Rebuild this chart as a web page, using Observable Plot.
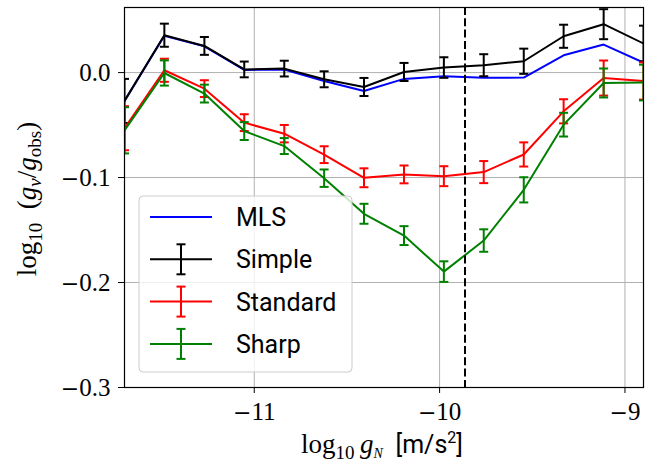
<!DOCTYPE html>
<html><head><meta charset="utf-8">
<script src="https://cdn.jsdelivr.net/npm/d3@7"></script>
<script src="https://cdn.jsdelivr.net/npm/@observablehq/plot@0.6"></script>
<style>body{margin:0;background:#fff}#chart{width:659px;height:464px}</style>
</head><body><div id="chart"></div>
<script>
// bin centres, log10 gN
const gN = [-11.7, -11.485, -11.269, -11.054, -10.838, -10.623, -10.408, -10.192, -9.977, -9.762, -9.546, -9.331, -9.115, -8.9];
const mls = [-0.027, 0.035, 0.025, 0.0025, 0.003, -0.008, -0.0175, -0.006, -0.0035, -0.005, -0.0048, 0.0165, 0.0267, 0.0095];
const simple = [-0.027, 0.0356, 0.0254, 0.003, 0.0038, -0.0064, -0.0137, 0.0006, 0.0048, 0.007, 0.0108, 0.0346, 0.0461, 0.0277];
const simpleErr = [0.021, 0.011, 0.0085, 0.0075, 0.0075, 0.0076, 0.0086, 0.0086, 0.0098, 0.0105, 0.012, 0.011, 0.0143, 0.017];
const standard = [-0.053, 0.0022, -0.0153, -0.0477, -0.0582, -0.0782, -0.1002, -0.097, -0.0987, -0.0948, -0.078, -0.0369, -0.0052, -0.008];
const standardErr = [0.021, 0.011, 0.008, 0.008, 0.0083, 0.008, 0.009, 0.0085, 0.0095, 0.0105, 0.0115, 0.0115, 0.0167, 0.0177];
const sharp = [-0.055, -0.0004, -0.02, -0.0557, -0.07, -0.1006, -0.1345, -0.1553, -0.1896, -0.16, -0.1117, -0.0496, -0.0099, -0.0095];
const sharpErr = [0.022, 0.012, 0.0085, 0.0085, 0.0076, 0.0083, 0.0095, 0.009, 0.0098, 0.0107, 0.012, 0.0113, 0.0138, 0.017];
const a0Line = [-9.863];
const xTicks = [-11, -10, -9];
const yTicks = [0, -0.1, -0.2, -0.3];
const seriesNames = ["MLS", "Simple", "Standard", "Sharp"];
const seriesColors = ["#0000ff", "#000000", "#ff0000", "#008000"];

const errSeries = [
  {name: "Simple", color: seriesColors[1], v: simple, e: simpleErr},
  {name: "Standard", color: seriesColors[2], v: standard, e: standardErr},
  {name: "Sharp", color: seriesColors[3], v: sharp, e: sharpErr}
];
const mlsRows = gN.map((x, i) => ({x, y: mls[i]}));

const cap = {draw(ctx, size) { const r = Math.sqrt(size / Math.PI); ctx.moveTo(-r, 0); ctx.lineTo(r, 0); }};
const fmtX = d => (d < 0 ? "\u2212" : "") + Math.abs(d);
const fmtY = d => (d < 0 ? "\u2212" : "") + Math.abs(d).toFixed(1);

const marks = [
  Plot.gridX(xTicks, {stroke: "#b0b0b0", strokeOpacity: 1, strokeWidth: 1}),
  Plot.gridY(yTicks, {stroke: "#b0b0b0", strokeOpacity: 1, strokeWidth: 1}),
  Plot.line(mlsRows, {x: "x", y: "y", stroke: seriesColors[0], strokeWidth: 2, clip: true})
];
for (const s of errSeries) {
  const rows = gN.map((x, i) => ({x, y: s.v[i], lo: s.v[i] - s.e[i], hi: s.v[i] + s.e[i]}));
  marks.push(
    Plot.line(rows, {x: "x", y: "y", stroke: s.color, strokeWidth: 2, clip: true}),
    Plot.ruleX(rows, {x: "x", y1: "lo", y2: "hi", stroke: s.color, strokeWidth: 2, clip: true}),
    Plot.dot(rows, {x: "x", y: "lo", symbol: cap, r: 4.5, fill: "none", stroke: s.color, strokeWidth: 2, clip: true}),
    Plot.dot(rows, {x: "x", y: "hi", symbol: cap, r: 4.5, fill: "none", stroke: s.color, strokeWidth: 2, clip: true})
  );
}
marks.push(
  Plot.ruleX(a0Line, {stroke: "#000", strokeWidth: 2, strokeDasharray: "8,3.3"}),
  Plot.frame({stroke: "#000", strokeWidth: 1.2}),
  Plot.axisX(xTicks, {tickSize: 6, tickPadding: 9, fontSize: 25, tickFormat: fmtX, label: null}),
  Plot.axisY(yTicks, {tickSize: 6, tickPadding: 8, fontSize: 25, tickFormat: fmtY, label: null})
);

const svg = Plot.plot({
  width: 659, height: 464,
  marginLeft: 124, marginRight: 16, marginTop: 7, marginBottom: 77,
  style: {fontFamily: "Liberation Serif", fontSize: "25px", background: "#fff", color: "#000"},
  x: {domain: [-11.7, -8.9], label: null},
  y: {domain: [-0.3, 0.062], label: null},
  marks
});
document.getElementById("chart").appendChild(svg);

const root = d3.select(svg);
// wider math-style minus sign in tick labels
root.selectAll("g[aria-label$='tick label'] text").each(function() {
  const t = this.textContent;
  if (t.startsWith("\u2212")) {
    const sel = d3.select(this);
    sel.text(null);
    sel.append("tspan").attr("font-family", "DejaVu Serif").attr("font-size", 22).text("\u2212");
    sel.append("tspan").text(t.slice(1));
  }
});

// legend
const lg = root.append("g").attr("text-anchor", "start");
lg.append("rect").attr("x", 139).attr("y", 196).attr("width", 213).attr("height", 176)
  .attr("rx", 4).attr("fill", "#fff").attr("fill-opacity", 0.8).attr("stroke", "#cccccc").attr("stroke-width", 1);
seriesNames.forEach((name, i) => {
  const yc = 217 + i * 42.3;
  const c = seriesColors[i];
  lg.append("line").attr("x1", 150).attr("x2", 212).attr("y1", yc).attr("y2", yc).attr("stroke", c).attr("stroke-width", 2);
  if (i > 0) {
    lg.append("line").attr("x1", 181).attr("x2", 181).attr("y1", yc - 15).attr("y2", yc + 15).attr("stroke", c).attr("stroke-width", 2);
    [yc - 15, yc + 15].forEach(yy => lg.append("line").attr("x1", 176.5).attr("x2", 185.5).attr("y1", yy).attr("y2", yy).attr("stroke", c).attr("stroke-width", 2));
  }
  lg.append("text").attr("x", 236).attr("y", yc + 9).attr("text-anchor", "start").attr("font-family", "Roboto").attr("font-size", 25).attr("fill", "#000").text(name);
});

// axis labels
const yl = root.append("text").attr("transform", "translate(36,199) rotate(-90)").attr("text-anchor", "middle")
  .attr("font-family", "Liberation Serif").attr("font-size", 27).attr("fill", "#000");
yl.append("tspan").text("log");
yl.append("tspan").attr("dy", 6).attr("font-size", 19).text("10");
yl.append("tspan").attr("dy", -6).text("\u2002(");
yl.append("tspan").attr("font-style", "italic").text("g");
yl.append("tspan").attr("dy", 5).attr("font-size", 19).attr("font-style", "italic").text("\u03bd");
yl.append("tspan").attr("dy", -5).text("/");
yl.append("tspan").attr("font-style", "italic").text("g");
yl.append("tspan").attr("dy", 5).attr("font-size", 19).text("obs");
yl.append("tspan").attr("dy", -5).text(")");

const xl = root.append("text").attr("x", 382).attr("y", 453).attr("text-anchor", "middle")
  .attr("font-family", "Liberation Serif").attr("font-size", 27).attr("fill", "#000");
xl.append("tspan").text("log");
xl.append("tspan").attr("dy", 6).attr("font-size", 19).text("10");
xl.append("tspan").attr("dy", -6).text("\u2009");
xl.append("tspan").attr("font-style", "italic").text("g");
xl.append("tspan").attr("dy", 5).attr("font-size", 14).attr("font-style", "italic").text("N");
xl.append("tspan").attr("dy", -5).attr("font-family", "Roboto").attr("font-size", 25).text("\u2002[m/s");
xl.append("tspan").attr("dy", -10).attr("font-family", "Roboto").attr("font-size", 16).text("2");
xl.append("tspan").attr("dy", 10).attr("font-family", "Roboto").attr("font-size", 25).text("]");
</script></body></html>
